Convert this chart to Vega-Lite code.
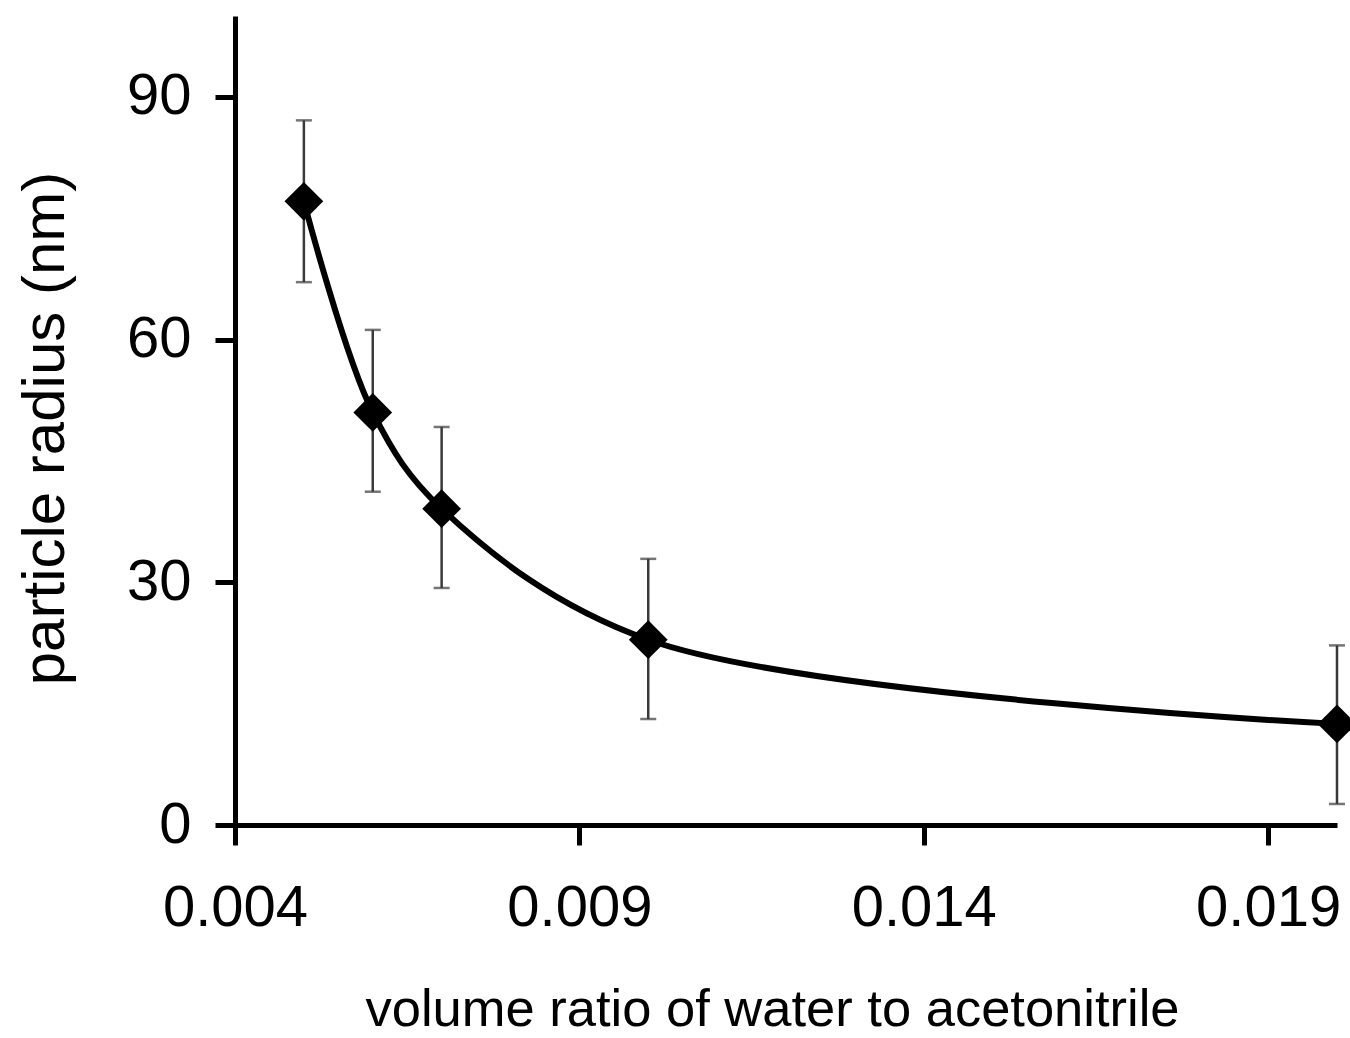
{
  "$schema": "https://vega.github.io/schema/vega-lite/v6.json",
  "width": 1102,
  "height": 809,
  "autosize": "none",
  "padding": {"left": 235, "top": 16, "right": 13, "bottom": 213},
  "background": "white",
  "config": {
    "view": {"stroke": null},
    "font": "Liberation Sans",
    "axis": {
      "grid": false,
      "domainColor": "black",
      "domainWidth": 5,
      "tickColor": "black",
      "tickWidth": 5,
      "tickSize": 20,
      "labelColor": "black",
      "titleColor": "black",
      "labelFont": "Liberation Sans",
      "titleFont": "Liberation Sans",
      "labelFontSize": 58,
      "titleFontWeight": "normal"
    }
  },
  "data": {
    "values": [
      {"ratio": 0.005, "radius": 77.1, "lo": 67.1, "hi": 87.1},
      {"ratio": 0.006, "radius": 51.0, "lo": 41.2, "hi": 61.2},
      {"ratio": 0.007, "radius": 39.1, "lo": 29.3, "hi": 49.2},
      {"ratio": 0.010, "radius": 22.9, "lo": 13.1, "hi": 32.9},
      {"ratio": 0.020, "radius": 12.5, "lo": 2.6, "hi": 22.2}
    ]
  },
  "encoding": {
    "x": {
      "field": "ratio",
      "type": "quantitative",
      "scale": {"domain": [0.004, 0.02], "nice": false, "zero": false},
      "axis": {
        "title": "volume ratio of water to acetonitrile",
        "values": [0.004, 0.009, 0.014, 0.019],
        "format": ".3f",
        "labelPadding": 34,
        "titleFontSize": 52.5,
        "titlePadding": 47,
        "titleX": 537,
        "labelFlush": false
      }
    }
  },
  "layer": [
    {
      "mark": {"type": "rule", "color": "#3a3a3a", "strokeWidth": 2.5},
      "encoding": {
        "y": {"field": "lo", "type": "quantitative"},
        "y2": {"field": "hi"}
      }
    },
    {
      "mark": {"type": "tick", "orient": "horizontal", "color": "#3a3a3a", "size": 16, "thickness": 2.5},
      "encoding": {"y": {"field": "lo", "type": "quantitative"}}
    },
    {
      "mark": {"type": "tick", "orient": "horizontal", "color": "#3a3a3a", "size": 16, "thickness": 2.5},
      "encoding": {"y": {"field": "hi", "type": "quantitative"}}
    },
    {
      "mark": {"type": "line", "interpolate": "catmull-rom", "color": "black", "strokeWidth": 6},
      "encoding": {
        "y": {
          "field": "radius",
          "type": "quantitative",
          "scale": {"domain": [0, 100], "nice": false},
          "axis": {
            "title": "particle radius (nm)",
            "values": [0, 30, 60, 90],
            "labelPadding": 24,
            "titleFontSize": 60,
            "titlePadding": 50,
            "titleY": 412
          }
        }
      }
    },
    {
      "mark": {"type": "point", "shape": "diamond", "filled": true, "color": "black", "size": 1500, "opacity": 1},
      "encoding": {"y": {"field": "radius", "type": "quantitative"}}
    }
  ]
}
